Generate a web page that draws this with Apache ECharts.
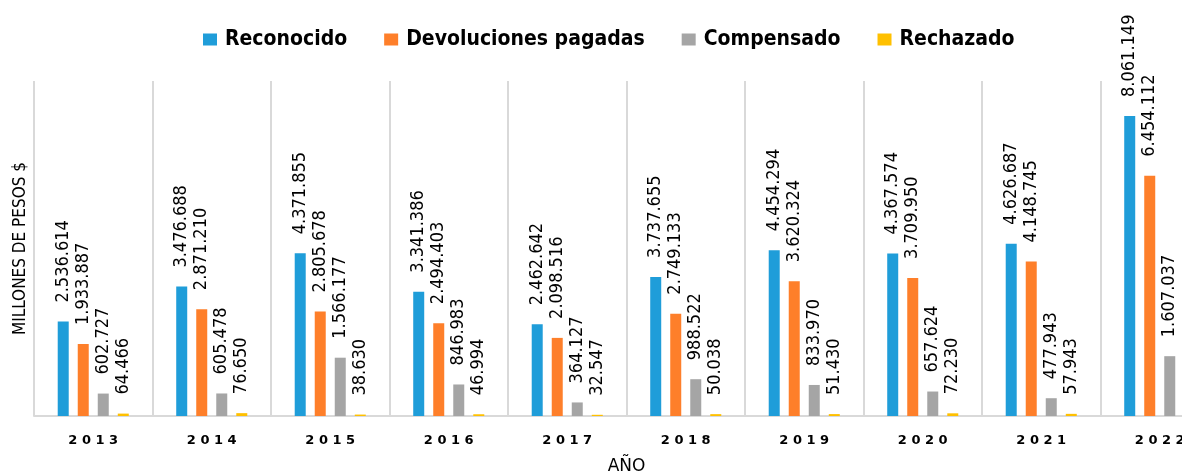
<!DOCTYPE html>
<html>
<head>
<meta charset="utf-8">
<script src="https://cdn.jsdelivr.net/npm/echarts@6/dist/echarts.min.js"></script>
<style>
  html, body { margin: 0; padding: 0; background: #fff; overflow: hidden; }
  #chart { width: 1182px; height: 474px; }
</style>
</head>
<body>
<div id="chart"></div>
<script>
const years = ['2013', '2014', '2015', '2016', '2017', '2018', '2019', '2020', '2021', '2022'];
const reconocido = [2536614, 3476688, 4371855, 3341386, 2462642, 3737655, 4454294, 4367574, 4626687, 8061149];
const devoluciones = [1933887, 2871210, 2805678, 2494403, 2098516, 2749133, 3620324, 3709950, 4148745, 6454112];
const compensado = [602727, 605478, 1566177, 846983, 364127, 988522, 833970, 657624, 477943, 1607037];
const rechazado = [64466, 76650, 38630, 46994, 32547, 50038, 51430, 72230, 57943, null];

const seriesNames = ['Reconocido', 'Devoluciones pagadas', 'Compensado', 'Rechazado'];
const colors = ['#1f9dd9', '#fe7f2a', '#a5a5a5', '#ffc000'];

// miles con punto, como en el original
const fmt = (v) => String(v).replace(/\B(?=(\d{3})+(?!\d))/g, '.');

const makeSeries = (name, data, color) => ({
  name,
  type: 'bar',
  data,
  barWidth: 11,
  barGap: '82%',
  itemStyle: { color },
  label: {
    show: true,
    position: 'top',
    rotate: 90,
    align: 'left',
    verticalAlign: 'middle',
    distance: 19,
    fontFamily: 'DejaVu Sans Condensed',
    fontSize: 18,
    color: '#000',
    formatter: (p) => fmt(p.value),
  },
});

const chart = echarts.init(document.getElementById('chart'));
chart.setOption({
  animation: false,
  color: colors,
  legend: {
    top: 24,
    left: 198,
    itemWidth: 14,
    itemHeight: 12,
    itemGap: 37,
    icon: 'rect',
    textStyle: {
      fontFamily: 'DejaVu Sans Condensed',
      fontWeight: 'bold',
      fontSize: 21,
      color: '#000',
      padding: [0, 0, 0, 3],
    },
    data: seriesNames,
  },
  grid: {
    left: 34,
    right: -37,
    top: 81,
    bottom: 58,
    outerBoundsMode: 'none',
    containLabel: false,
  },
  xAxis: {
    type: 'category',
    data: years,
    name: 'AÑO',
    nameLocation: 'middle',
    nameGap: 42,
    nameTextStyle: {
      fontFamily: 'DejaVu Sans',
      fontSize: 17,
      color: '#000',
    },
    axisLine: { lineStyle: { color: '#d9d9d9', width: 2 } },
    axisTick: { show: false },
    axisLabel: {
      margin: 18,
      fontFamily: 'DejaVu Sans',
      fontWeight: 'bold',
      fontSize: 13,
      color: '#000',
      formatter: (v) => v.split('').join(' '),
    },
    splitLine: { show: true, lineStyle: { color: '#d9d9d9', width: 2 } },
  },
  yAxis: {
    type: 'value',
    min: 0,
    max: 9000000,
    name: 'MILLONES DE PESOS $',
    nameLocation: 'middle',
    nameGap: 5,
    nameTextStyle: {
      fontFamily: 'DejaVu Sans Condensed',
      fontSize: 17,
      color: '#000',
    },
    axisLine: { show: false },
    axisTick: { show: false },
    axisLabel: { show: false },
    splitLine: { show: false },
  },
  series: [
    makeSeries(seriesNames[0], reconocido, colors[0]),
    makeSeries(seriesNames[1], devoluciones, colors[1]),
    makeSeries(seriesNames[2], compensado, colors[2]),
    makeSeries(seriesNames[3], rechazado, colors[3]),
  ],
});
</script>
</body>
</html>
